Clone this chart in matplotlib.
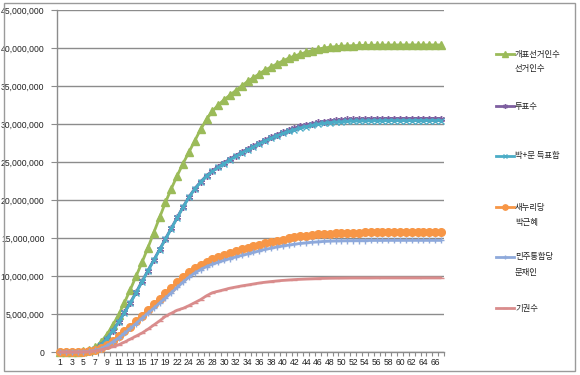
import matplotlib
matplotlib.use("Agg")
import matplotlib.pyplot as plt
from matplotlib.lines import Line2D
from matplotlib.patches import Rectangle
from matplotlib.ticker import FuncFormatter, MultipleLocator, FixedLocator

# ---------------- data (millions) ----------------
categories = list(range(1, 21)) + list(range(22, 68))   # 66 category labels

series_names = ["개표선거인수\n선거인수", "투표수", "박+문 득표합",
                "새누리당\n박근혜", "민주통합당\n문재인", "기권수"]

electorate = [0.0, 0.0, 0.01, 0.03, 0.08, 0.25, 0.6, 1.3, 2.3, 3.5,
              4.9, 6.5, 8.2, 10.0, 11.8, 13.7, 15.7, 17.7, 19.7, 21.5,
              23.2, 24.8, 26.3, 27.8, 29.3, 30.6, 31.7, 32.5, 33.2, 33.8,
              34.4, 35.0, 35.6, 36.1, 36.6, 37.1, 37.5, 37.9, 38.3, 38.65,
              38.95, 39.2, 39.45, 39.65, 39.85, 40.0, 40.1, 40.18, 40.24, 40.28,
              40.31, 40.33, 40.35, 40.36, 40.37, 40.38, 40.39, 40.4, 40.4, 40.4,
              40.4, 40.4, 40.4, 40.4, 40.4, 40.4]

turnout = [0.0, 0.0, 0.005, 0.02, 0.06, 0.2, 0.45, 0.95, 1.75, 2.8,
           3.95, 5.2, 6.5, 7.85, 9.3, 10.7, 12.1, 13.5, 14.9, 16.3,
           17.7, 19.1, 20.4, 21.5, 22.4, 23.2, 23.85, 24.4, 24.9, 25.4,
           25.85, 26.3, 26.7, 27.1, 27.5, 27.9, 28.25, 28.6, 28.9, 29.2,
           29.45, 29.7, 29.9, 30.05, 30.2, 30.32, 30.42, 30.5, 30.56, 30.6,
           30.63, 30.65, 30.67, 30.68, 30.69, 30.7, 30.71, 30.71, 30.71, 30.72,
           30.72, 30.72, 30.72, 30.72, 30.72, 30.72]

park_moon_sum = [0.0, 0.0, 0.005, 0.02, 0.05, 0.19, 0.44, 0.94, 1.73, 2.77,
                 3.9, 5.15, 6.45, 7.8, 9.25, 10.65, 12.05, 13.45, 14.85, 16.25,
                 17.65, 19.05, 20.35, 21.45, 22.35, 23.15, 23.75, 24.3, 24.8, 25.3,
                 25.75, 26.2, 26.6, 27.0, 27.4, 27.8, 28.13, 28.47, 28.75, 29.02,
                 29.26, 29.48, 29.67, 29.83, 29.97, 30.09, 30.18, 30.25, 30.3, 30.34,
                 30.37, 30.39, 30.4, 30.42, 30.43, 30.43, 30.45, 30.45, 30.45, 30.45,
                 30.45, 30.46, 30.46, 30.46, 30.46, 30.46]

park = [0.0, 0.0, 0.003, 0.01, 0.03, 0.1, 0.25, 0.5, 0.9, 1.45,
        2.05, 2.7, 3.35, 4.05, 4.8, 5.55, 6.3, 7.0, 7.75, 8.45,
        9.15, 9.85, 10.5, 11.05, 11.5, 11.9, 12.2, 12.5, 12.75, 13.0,
        13.25, 13.5, 13.7, 13.9, 14.1, 14.3, 14.48, 14.65, 14.8, 14.95,
        15.08, 15.2, 15.3, 15.39, 15.47, 15.54, 15.59, 15.63, 15.66, 15.69,
        15.71, 15.72, 15.73, 15.74, 15.75, 15.75, 15.76, 15.76, 15.76, 15.76,
        15.76, 15.77, 15.77, 15.77, 15.77, 15.77]

moon = [0.0, 0.0, 0.002, 0.01, 0.02, 0.09, 0.2, 0.44, 0.83, 1.32,
        1.85, 2.45, 3.1, 3.75, 4.45, 5.1, 5.75, 6.45, 7.1, 7.8,
        8.5, 9.2, 9.85, 10.4, 10.85, 11.25, 11.55, 11.8, 12.05, 12.3,
        12.5, 12.7, 12.9, 13.1, 13.3, 13.5, 13.65, 13.82, 13.95, 14.07,
        14.18, 14.28, 14.37, 14.44, 14.5, 14.55, 14.59, 14.62, 14.64, 14.65,
        14.66, 14.67, 14.67, 14.68, 14.68, 14.68, 14.69, 14.69, 14.69, 14.69,
        14.69, 14.69, 14.69, 14.69, 14.69, 14.69]

abstain = [0.0, 0.0, 0.005, 0.01, 0.02, 0.05, 0.15, 0.3, 0.5, 0.7,
           0.95, 1.3, 1.7, 2.1, 2.5, 3.0, 3.55, 4.1, 4.7, 5.1,
           5.5, 5.75, 6.1, 6.5, 6.9, 7.4, 7.8, 8.0, 8.2, 8.4,
           8.55, 8.7, 8.82, 8.95, 9.08, 9.18, 9.27, 9.35, 9.42, 9.48,
           9.53, 9.57, 9.61, 9.64, 9.67, 9.69, 9.71, 9.72, 9.73, 9.74,
           9.75, 9.75, 9.75, 9.75, 9.76, 9.76, 9.76, 9.76, 9.76, 9.76,
           9.76, 9.76, 9.76, 9.76, 9.76, 9.76]

all_series = [electorate, turnout, park_moon_sum, park, moon, abstain]

# ---------------- styles ----------------
colors = ["#9BBB59", "#7E5FA0", "#4BACC6", "#F79646", "#8EA9DB", "#D98C8C"]
markers = ["^", (6, 2, 0), "x", "o", "+", "_"]
msizes = [5.5, 5, 4, 5.5, 5, 4]

W, H = 580, 375
fig = plt.figure(figsize=(W / 100, H / 100), dpi=100)
fig.patch.set_facecolor("white")

# Excel chart border
fig.add_artist(Rectangle((4 / W, 1 - 371 / H), (575 - 4) / W, (371 - 3) / H,
                         transform=fig.transFigure, fill=False,
                         edgecolor="#9A9A9A", linewidth=1.0))

ax = fig.add_axes([57 / W, 1 - 352 / H, (444 - 57) / W, (352 - 10) / H])
ax.set_facecolor("white")

x = list(range(len(categories)))
for vals, c, m, ms in zip(all_series, colors, markers, msizes):
    yv = [v * 1e6 for v in vals]
    ax.plot(x, yv, color=c, lw=2.0, marker=m, markersize=ms,
            markerfacecolor=c, markeredgecolor=c, markeredgewidth=1.0,
            solid_capstyle="round", clip_on=False, zorder=3)

ax.set_xlim(-0.5, len(categories) - 0.5)
ax.set_ylim(0, 45e6)
ax.yaxis.set_major_locator(MultipleLocator(5e6))
ax.yaxis.set_major_formatter(FuncFormatter(lambda v, p: f"{int(round(v)):,}"))
ax.grid(axis="y", color="#8C8C8C", lw=1.0, zorder=0)
ax.set_axisbelow(True)

ax.set_xticks([i for i in x if i % 2 == 0])
ax.set_xticklabels([str(categories[i]) for i in x if i % 2 == 0])
ax.xaxis.set_minor_locator(FixedLocator([i - 0.5 for i in range(len(categories) + 1)]))
ax.tick_params(axis="x", which="major", length=0, pad=4, labelsize=6.2,
               labelcolor="#222222")
ax.tick_params(axis="x", which="minor", length=3, color="#8C8C8C", width=0.8)
ax.tick_params(axis="y", length=4, color="#8C8C8C", width=0.8, pad=5,
               labelsize=6.2, labelcolor="#222222")
for lab in ax.get_xticklabels() + ax.get_yticklabels():
    lab.set_family(["Liberation Sans", "DejaVu Sans"])

for s in ["top", "right"]:
    ax.spines[s].set_visible(False)
for s in ["left", "bottom"]:
    ax.spines[s].set_color("#8C8C8C")
    ax.spines[s].set_linewidth(1.0)

# ---------------- legend (manual, Excel style) ----------------
legend_y = [54, 106, 156, 207, 257, 308]
for name, c, m, ms, ly in zip(series_names, colors, markers, msizes, legend_y):
    yf = 1 - ly / H
    fig.add_artist(Line2D([496 / W, 514 / W], [yf, yf], transform=fig.transFigure,
                          color=c, lw=2.0))
    fig.add_artist(Line2D([505 / W], [yf], transform=fig.transFigure, color=c,
                          marker=m, markersize=ms * 0.7, markerfacecolor=c,
                          markeredgecolor=c, lw=0))
    lines = name.split("\n")
    for k, t in enumerate(lines):
        fig.text(515 / W, 1 - (ly + 15 * k) / H, t, ha="left", va="center",
                 fontsize=6, color="#222222",
                 family=["Noto Sans CJK KR", "DejaVu Sans"])

fig.savefig("out.png", dpi=100, facecolor="white")
